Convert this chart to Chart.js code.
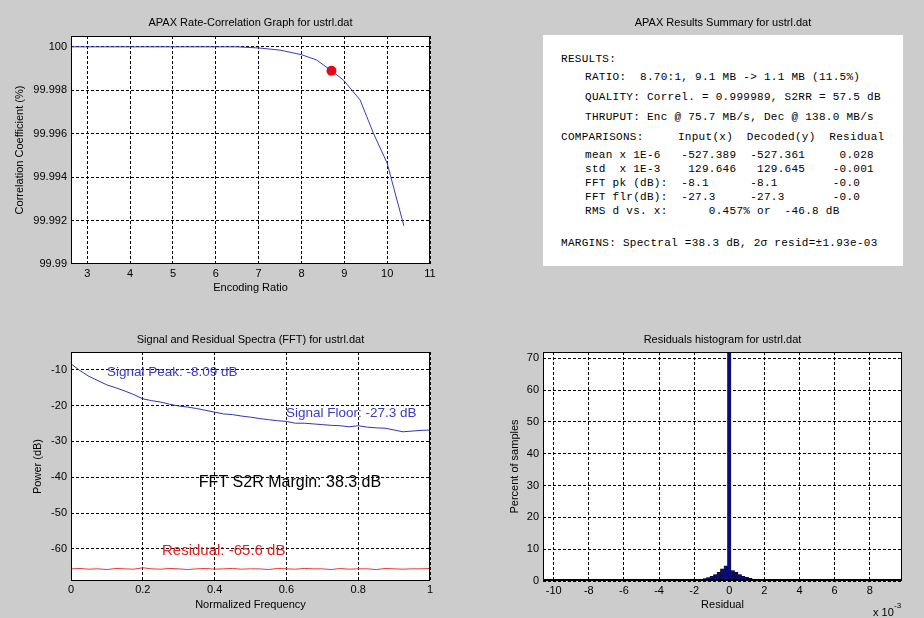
<!DOCTYPE html>
<html><head><meta charset="utf-8">
<script src="https://cdn.jsdelivr.net/npm/chart.js@4.4.1/dist/chart.umd.min.js"></script>
<style>
html,body{margin:0;padding:0;background:#cccccc;width:924px;height:618px;overflow:hidden;}
canvas{position:absolute;left:0;top:0;}
#sumTitle{position:absolute;left:543px;width:360px;top:16px;line-height:14px;text-align:center;font:11px "Liberation Sans",Arial,sans-serif;color:#000;}
#box{position:absolute;left:543px;top:35px;width:360px;height:231px;background:#fff;}
.ln{position:absolute;white-space:pre;font:11px "Liberation Mono",monospace;letter-spacing:0.28px;line-height:14px;color:#000;}
</style></head><body>
<canvas id="c1" width="924" height="618"></canvas>
<canvas id="c3" width="924" height="618"></canvas>
<canvas id="c4" width="924" height="618"></canvas>
<div id="sumTitle">APAX Results Summary for ustrl.dat</div>
<div id="box"></div>
<div id="txt"></div>
<script>
// ---------- data ----------
const ratioX  = [2.62, 3, 4, 5, 6, 6.5, 7.0, 7.5, 8.0, 8.35, 8.7, 8.98, 9.37, 9.68, 10.0, 10.39];
const corrPct = [100, 100, 100, 100, 100, 100, 99.99995, 99.99985, 99.99964, 99.99940, 99.99890, 99.99847, 99.99755, 99.99602, 99.99464, 99.99176];
const opRatio = [8.70];
const opCorr  = [99.9989];

const freqX = [0,0.025,0.05,0.075,0.1,0.125,0.15,0.175,0.2,0.225,0.25,0.275,0.3,0.325,0.35,0.375,0.4,0.425,0.45,0.475,0.5,0.525,0.55,0.575,0.6,0.625,0.65,0.675,0.7,0.725,0.75,0.775,0.8,0.825,0.85,0.875,0.9,0.925,0.95,0.975,1.0];
const signalDb = [-8.3,-10.2,-11.8,-13.0,-14.2,-15.0,-15.9,-16.9,-18.1,-18.6,-19.0,-19.6,-20.1,-20.4,-20.8,-21.3,-21.8,-22.3,-22.5,-22.9,-23.2,-23.6,-23.9,-24.2,-24.4,-24.9,-24.9,-25.1,-25.3,-25.5,-25.6,-25.9,-25.6,-26.0,-26.2,-26.3,-26.8,-27.3,-27.1,-26.9,-26.8];
const residualDb = [-65.6,-65.5,-65.7,-65.6,-65.8,-65.5,-65.6,-65.7,-65.3,-65.6,-65.7,-65.5,-65.6,-65.8,-65.6,-65.5,-65.7,-65.6,-65.5,-65.7,-65.6,-65.6,-65.8,-65.5,-65.6,-65.7,-65.5,-65.6,-65.6,-65.8,-65.5,-65.7,-65.6,-65.6,-65.8,-65.5,-65.6,-65.7,-65.6,-65.6,-65.5];

const residBins = [-10.0,-9.0,-2.0,-1.8,-1.6,-1.4,-1.2,-1.0,-0.8,-0.6,-0.4,-0.2,0,0.2,0.4,0.6,0.8,1.0,1.2,1.4,1.6,1.8,2.0];
const residPct  = [0.1,0.1,0.2,0.3,0.5,0.75,1.05,1.5,2.0,2.7,3.8,4.8,75,3.3,2.7,2.0,1.5,1.15,0.85,0.6,0.4,0.3,0.2];

const fftNotes = [
  {text:'Signal Peak: -8.09 dB', x:0.10, y:-10.8, color:'#3b3bc4', size:13.5, align:'left'},
  {text:'Signal Floor: -27.3 dB', x:0.599, y:-22.05, color:'#3b3bc4', size:13.5, align:'left'},
  {text:'FFT S2R Margin: 38.3 dB', x:0.61, y:-41.6, color:'#000000', size:16, align:'center'},
  {text:'Residual: -65.6 dB', x:0.2535, y:-60.5, color:'#e02020', size:15, align:'left'}
];

const resultsHead = 'RESULTS:';
const resultsLines = [
  'RATIO:  8.70:1, 9.1 MB -> 1.1 MB (11.5%)',
  'QUALITY: Correl. = 0.999989, S2RR = 57.5 dB',
  'THRUPUT: Enc @ 75.7 MB/s, Dec @ 138.0 MB/s'
];
const compareHead = 'COMPARISONS:     Input(x)  Decoded(y)  Residual';
const compareRows = [
  'mean x 1E-6   -527.389  -527.361     0.028',
  'std  x 1E-3    129.646   129.645    -0.001',
  'FFT pk (dB):  -8.1      -8.1        -0.0',
  'FFT flr(dB):  -27.3     -27.3       -0.0',
  'RMS d vs. x:      0.457% or  -46.8 dB'
];
const marginsLine = 'MARGINS: Spectral =38.3 dB, 2\u03c3 resid=\u00b11.93e-03';

// ---------- summary text (layout) ----------
(function(){
  const t = document.getElementById('txt');
  function add(s, left, cy){ const d=document.createElement('div'); d.className='ln'; d.textContent=s; d.style.left=left+'px'; d.style.top=(cy-7)+'px'; t.appendChild(d); }
  add(resultsHead, 561, 59);
  const rY=[76.7,96.7,116.7];
  resultsLines.forEach((s,i)=>add(s,585,rY[i]));
  add(compareHead, 561, 136.7);
  const cY=[155,169,183,197,211];
  compareRows.forEach((s,i)=>add(s,585,cY[i]));
  add(marginsLine, 561, 242.7);
})();

// ---------- charts ----------
const F = '"Liberation Sans", Arial, sans-serif';
Chart.defaults.font.family = F;
Chart.defaults.color = '#000';

function framePlugin(bottomW){
  return {
    id:'frame',
    beforeDraw(chart){ const {ctx, chartArea:a}=chart; ctx.save(); ctx.fillStyle='#fff'; ctx.fillRect(a.left,a.top,a.right-a.left,a.bottom-a.top); ctx.restore(); },
    afterDraw(chart){ const {ctx, chartArea:a}=chart; ctx.save(); ctx.strokeStyle='#000'; ctx.lineWidth=1;
      const l=Math.round(a.left)+0.5, t=Math.round(a.top)+0.5, r=Math.round(a.right)-0.5, b=Math.round(a.bottom)-0.5;
      ctx.strokeRect(l,t,r-l,b-t);
      if(bottomW>1){ ctx.lineWidth=bottomW; ctx.beginPath(); ctx.moveTo(l,b-0.5); ctx.lineTo(r,b-0.5); ctx.stroke(); }
      ctx.restore(); }
  };
}
function axisX(min,max,step,title,tickPad,titlePadB){
  return {type:'linear', min, max, offset:false,
    afterFit:s=>{s.height=31;},
    ticks:{stepSize:step, includeBounds:false, padding:tickPad, color:'#000', font:{size:11}, maxRotation:0, autoSkip:false,
      callback:v=>String(Number(v.toFixed(4)))},
    grid:{color:'#000', drawTicks:false, lineWidth:1, offset:false},
    border:{display:false, dash:[3,2]},
    title:{display:true, text:title, color:'#000', font:{size:11}, padding:{top:0,bottom:titlePadB}}};
}
function axisY(min,max,step,title,width,titlePadT){
  return {type:'linear', min, max,
    afterFit:s=>{s.width=width;},
    ticks:{stepSize:step, includeBounds:false, padding:4, color:'#000', font:{size:11},
      callback:v=>String(Number(v.toFixed(4)))},
    grid:{color:'#000', drawTicks:false, lineWidth:1},
    border:{display:false, dash:[3,2]},
    title:{display:true, text:title, color:'#000', font:{size:11}, padding:{top:titlePadT,bottom:0}}};
}
function titleOpt(text, pt, pb){
  return {display:true, fullSize:false, text, color:'#000', font:{size:11, weight:'normal'}, padding:{top:pt,bottom:pb}};
}
const base = {responsive:false, animation:false, events:[]};

// Panel 1: rate-correlation
new Chart(document.getElementById('c1'), {
  type:'line',
  data:{datasets:[
    {data: ratioX.map((x,i)=>({x, y: corrPct[i]})), borderColor:'#3a3ac4', borderWidth:1, pointRadius:0, tension:0},
    {data: opRatio.map((x,i)=>({x, y: opCorr[i]})), showLine:false, pointRadius:5, pointBackgroundColor:'#ff0000', pointBorderColor:'#ff0000', pointBorderWidth:0}
  ]},
  options:Object.assign({}, base, {
    layout:{padding:{left:0, top:0, right:494, bottom:323}},
    plugins:{legend:{display:false}, tooltip:{enabled:false}, title:titleOpt('APAX Rate-Correlation Graph for ustrl.dat',16.4,6.4)},
    scales:{
      x: axisX(2.62, 11, 1, 'Encoding Ratio', 3, 0),
      y: axisY(99.99, 100.0005, 0.002, 'Correlation Coefficient (%)', 71, 13.4)
    }
  }),
  plugins:[framePlugin(1)]
});

// Panel 3: spectra
const notesPlugin = {
  id:'notes',
  afterDatasetsDraw(chart){
    const ctx=chart.ctx, xs=chart.scales.x, ys=chart.scales.y;
    ctx.save();
    for(const n of fftNotes){
      ctx.font = n.size+'px '+F; ctx.fillStyle=n.color; ctx.textAlign=n.align; ctx.textBaseline='middle';
      ctx.fillText(n.text, xs.getPixelForValue(n.x), ys.getPixelForValue(n.y));
    }
    ctx.restore();
  }
};
new Chart(document.getElementById('c3'), {
  type:'line',
  data:{datasets:[
    {data: freqX.map((x,i)=>({x, y: signalDb[i]})), borderColor:'#3333bb', borderWidth:1, pointRadius:0, tension:0},
    {data: freqX.map((x,i)=>({x, y: residualDb[i]})), borderColor:'#e8393b', borderWidth:1, pointRadius:0, tension:0}
  ]},
  options:Object.assign({}, base, {
    layout:{padding:{left:0, top:320, right:494, bottom:6}},
    plugins:{legend:{display:false}, tooltip:{enabled:false}, title:titleOpt('Signal and Residual Spectra (FFT) for ustrl.dat',13.4,5.4)},
    scales:{
      x: axisX(0, 1, 0.2, 'Normalized Frequency', 2.5, 0),
      y: axisY(-69, -5, 10, 'Power (dB)', 71, 31.4)
    }
  }),
  plugins:[framePlugin(1), notesPlugin]
});

// Panel 4: histogram
const expPlugin = {
  id:'exp',
  afterDraw(chart){
    const ctx=chart.ctx, a=chart.chartArea;
    ctx.save(); ctx.fillStyle='#000'; ctx.textBaseline='alphabetic'; ctx.textAlign='left';
    ctx.font='11px '+F; ctx.fillText('x 10', a.right-29, a.bottom+35);
    ctx.font='8px '+F; ctx.fillText('-3', a.right-8, a.bottom+27);
    ctx.restore();
  }
};
new Chart(document.getElementById('c4'), {
  type:'bar',
  data:{datasets:[
    {data: residBins.map((x,i)=>({x, y: residPct[i]})), backgroundColor:'#0b0b78', borderColor:'#000', borderWidth:0.5, barPercentage:1, categoryPercentage:1}
  ]},
  options:Object.assign({}, base, {
    layout:{padding:{left:480, top:320, right:22, bottom:6}},
    plugins:{legend:{display:false}, tooltip:{enabled:false}, title:titleOpt('Residuals histogram for ustrl.dat',13.4,5.4)},
    scales:{
      x: axisX(-10.61, 9.84, 2, 'Residual', 3, 0.4),
      y: axisY(0, 72, 10, 'Percent of samples', 63, 28.4)
    }
  }),
  plugins:[framePlugin(2), expPlugin]
});
</script>
</body></html>
